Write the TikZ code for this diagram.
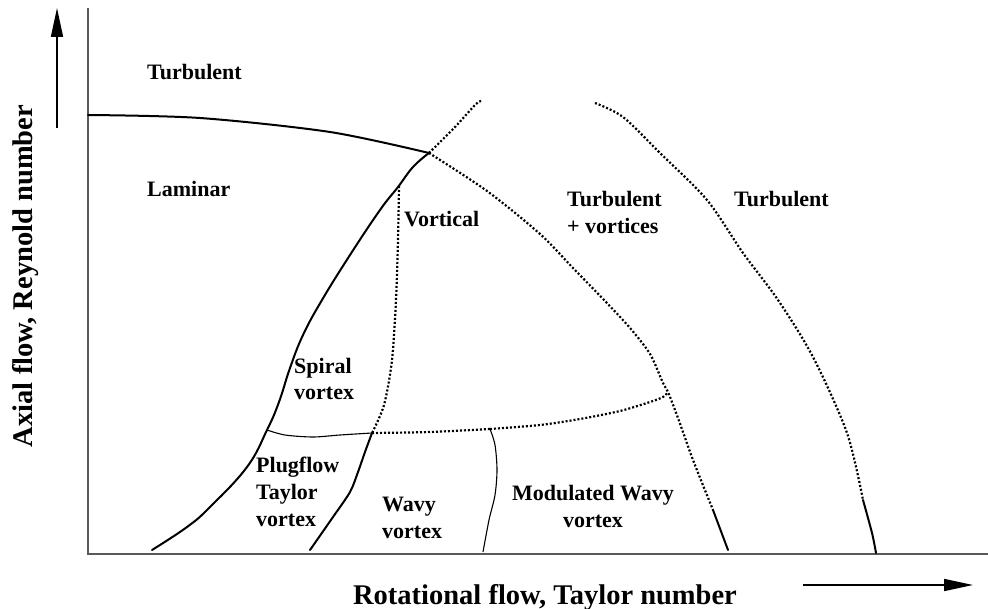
\documentclass[tikz,border=0pt]{standalone}
\usepackage{fontspec}
\setmainfont{Liberation Serif}
\usetikzlibrary{arrows.meta}

\begin{document}
\begin{tikzpicture}[x=1pt, y=-1pt, >={Triangle[length=29pt,width=12pt]},
  region/.style={font=\fontsize{22}{27}\selectfont\bfseries, align=left, anchor=base west, inner sep=0pt},
  bound/.style={line width=2pt, line join=round, line cap=round},
  thinbound/.style={line width=1.1pt},
  dotbound/.style={line width=2.2pt, dash pattern=on 2pt off 2pt},
  axislabel/.style={font=\fontsize{28.5}{34}\selectfont\bfseries, anchor=base, inner sep=0pt}]
\useasboundingbox (0,0) rectangle (988,609);

% axes
\draw[line width=1.2pt, black!65] (88,8) coordinate(top) -- (88,554) coordinate(O) -- (988,554) coordinate(right);
\draw[->, line width=1.7pt] (57,128) -- (57,8);
\draw[->, line width=1.7pt] (803,585) -- (973,585);
\node[axislabel, rotate=90] (ylab) at (32,276) {Axial flow, Reynold number};
\node[axislabel] (xlab) at (545,604) {Rotational flow, Taylor number};

% junctions
\coordinate (J1) at (429,153);
\coordinate (J2) at (267,430);
\coordinate (J3) at (372,433);
\coordinate (J4) at (490,429);
\coordinate (J5) at (668,392);

% solid boundaries
\draw[bound] plot[smooth] coordinates {(88,115) (200,118) (330,132) (J1)};
\draw[bound] plot[smooth, tension=0.7] coordinates {(J1) (413,167) (398,187) (380,210) (350,255) (322,300) (303,335) (290,368) (279,402) (J2) (247,467) (210,507) (187,527) (152,550)};
\draw[bound] plot[smooth] coordinates {(J3) (365,452) (358,472) (350,492) (333,517) (310,550)};
\draw[thinbound] plot[smooth] coordinates {(J2) (285,435) (313,437) (340,435) (J3)};
\draw[thinbound] plot[smooth] coordinates {(J4) (495,445) (497,470) (495,495) (489,520) (483,552)};

% dotted boundaries
\draw[dotbound] plot[smooth] coordinates {(J1) (455,127) (476,104) (482,101)};
\draw[dotbound] plot[smooth] coordinates {(399,186) (398,240) (396,300) (392,360) (384,405) (J3)};
\draw[dotbound] plot[smooth] coordinates {(J3) (430,432) (J4)};
\draw[dotbound] plot[smooth] coordinates {(J4) (540,425) (580,419) (620,411) (650,402) (663,397) (J5)};
\draw[dotbound] plot[smooth] coordinates {(J1) (487,191) (540,234) (573,268) (605,301) (630,328) (650,354) (663,383) (J5) (678,418) (693,460) (713,510)};
\draw[bound] (713,510) -- (728,550);
\draw[dotbound] plot[smooth] coordinates {(595,103) (623,117) (660,153) (707,200) (743,253) (778,300) (813,357) (847,433) (863,500)};
\draw[bound] plot[smooth] coordinates {(863,500) (872,533) (876,553)};

% regions
\node[region] (turbA) at (147,80) {Turbulent};
\node[region] (lam) at (147,197) {Laminar};
\node[region] (vort) at (404,227) {Vortical};
\node[region] (turbvort) at (567,234) {Turbulent\\+ vortices};
\node[region] (turbB) at (734,207) {Turbulent};
\node[region] (spiral) at (294,400) {Spiral\\vortex};
\node[region] (plug) at (256,526) {Plugflow\\Taylor\\vortex};
\node[region] (wavy) at (382,538) {Wavy\\vortex};
\node[region, align=center, anchor=base] (modwavy) at (593,527) {Modulated Wavy\\vortex};
\end{tikzpicture}
\end{document}
